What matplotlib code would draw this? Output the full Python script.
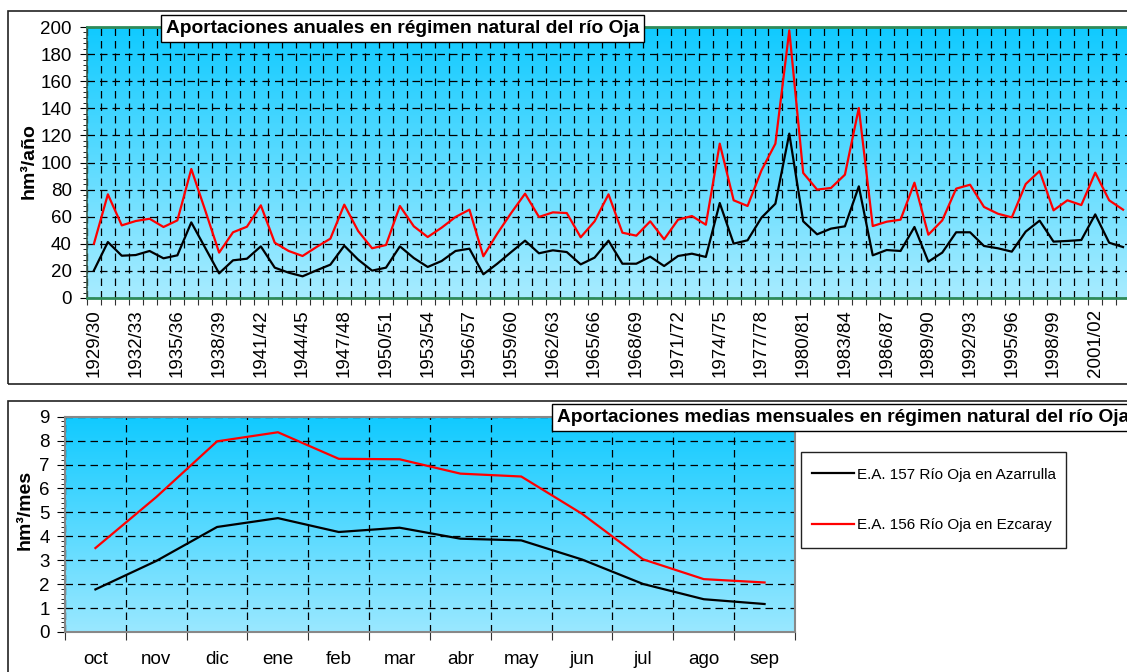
import numpy as np
import matplotlib
matplotlib.use("Agg")
import matplotlib.pyplot as plt
from matplotlib.patches import Rectangle
from matplotlib.colors import LinearSegmentedColormap

plt.rcParams['font.family'] = ['Liberation Sans', 'DejaVu Sans']

# ---------------- data ----------------
seasons = [f"{y}/{(y + 1) % 100:02d}" for y in range(1929, 2004)]

azarrulla_annual = [20.4, 41.3, 31.2, 31.7, 34.7, 29.3, 31.5, 55.8, 37.0, 18.2,
                    27.8, 29.0, 38.1, 22.4, 18.7, 16.0, 20.4, 24.6, 38.6, 28.3,
                    20.2, 22.4, 38.1, 29.5, 22.9, 27.3, 34.7, 36.4, 17.5, 25.3,
                    33.9, 42.3, 33.0, 35.2, 33.9, 24.8, 29.8, 42.3, 25.3, 25.3,
                    30.5, 23.6, 31.0, 32.7, 30.3, 70.1, 40.1, 42.6, 59.3, 69.6,
                    121.3, 56.6, 47.0, 51.2, 52.9, 82.4, 31.5, 35.4, 34.7, 52.4,
                    26.8, 33.5, 48.5, 48.5, 38.4, 36.7, 34.2, 49.0, 57.1, 41.6,
                    42.1, 42.8, 61.7, 40.8, 37.6]

ezcaray_annual = [40.1, 76.5, 53.6, 56.8, 58.5, 52.4, 57.3, 95.2, 64.7, 33.5,
                  48.5, 52.6, 68.4, 40.8, 34.7, 31.0, 37.6, 43.8, 68.9, 49.4,
                  36.7, 39.1, 67.9, 52.9, 45.0, 51.9, 59.8, 65.2, 30.8, 47.5,
                  62.7, 77.0, 59.8, 63.2, 62.7, 44.8, 56.6, 76.5, 48.2, 46.0,
                  56.6, 43.3, 57.8, 60.5, 54.1, 113.9, 72.1, 67.9, 94.2, 113.9,
                  197.5, 92.3, 80.0, 81.2, 91.0, 140.2, 53.1, 56.3, 57.8, 85.1,
                  46.7, 57.3, 80.7, 83.6, 67.2, 62.2, 59.5, 84.1, 93.7, 64.7,
                  72.1, 68.6, 92.5, 72.1, 65.2]

months = ['oct', 'nov', 'dic', 'ene', 'feb', 'mar', 'abr', 'may', 'jun', 'jul', 'ago', 'sep']
azarrulla_monthly = [1.78, 2.97, 4.39, 4.76, 4.18, 4.36, 3.90, 3.83, 3.03, 2.01, 1.37, 1.17]
ezcaray_monthly = [3.51, 5.64, 7.97, 8.35, 7.24, 7.22, 6.62, 6.50, 4.94, 3.04, 2.21, 2.07]

label_azarrulla = 'E.A. 157 Río Oja en Azarrulla'
label_ezcaray = 'E.A. 156 Río Oja en Ezcaray'
title_top = 'Aportaciones anuales en régimen natural del río Oja'
title_bottom = 'Aportaciones medias mensuales en régimen natural del río Oja'

# ---------------- figure ----------------
W, H = 1127, 672
fig = plt.figure(figsize=(W / 100, H / 100), dpi=100)


def fx(px):
    return px / W


def fy(py):
    return 1 - py / H


# outer frames
fig.patches.append(Rectangle((fx(8), fy(384)), fx(1200), fy(11) - fy(384),
                             transform=fig.transFigure, fill=False,
                             ec='#222222', lw=1.2, zorder=0))
fig.patches.append(Rectangle((fx(8), fy(760)), fx(1200), fy(401) - fy(760),
                             transform=fig.transFigure, fill=False,
                             ec='#222222', lw=1.2, zorder=0))
# legend frame
fig.patches.append(Rectangle((fx(801), fy(548)), fx(1066) - fx(801), fy(452) - fy(548),
                             transform=fig.transFigure, fill=False,
                             ec='#222222', lw=1.0, zorder=0))

grad_top = LinearSegmentedColormap.from_list('g1', ['#a8ecff', '#10caff'])
grad_bot = LinearSegmentedColormap.from_list('g2', ['#9ae8ff', '#10caff'])

# ---------------- top chart ----------------
ax1 = fig.add_axes([fx(87), fy(298), fx(1130) - fx(87), fy(27) - fy(298)])
n = len(seasons)
x = np.arange(n)
ax1.imshow(np.linspace(0, 1, 256).reshape(-1, 1), cmap=grad_top, origin='lower',
           aspect='auto', extent=(-0.5, n - 0.5, 0, 200), zorder=0)
ax1.plot(x, azarrulla_annual, color='black', lw=1.6, zorder=3)
ax1.plot(x, ezcaray_annual, color='#ff0000', lw=1.6, zorder=3)
ax1.set_xlim(-0.5, n - 0.5)
ax1.set_ylim(0, 200)
ax1.set_xticks(np.arange(-0.5, n, 1))
ax1.set_xticklabels([])
ax1.set_xticks(x[::3], minor=True)
ax1.set_xticklabels(seasons[::3], minor=True, rotation=90, fontsize=13.5)
ax1.tick_params(axis='x', which='major', length=5, width=0.8, color='#333333', direction='out')
ax1.tick_params(axis='x', which='minor', length=0, pad=8)
ax1.set_yticks(np.arange(0, 201, 20))
ax1.set_yticks(np.arange(0, 201, 4), minor=True)
ax1.tick_params(axis='y', which='major', length=5, width=0.8, labelsize=13.5, pad=6)
ax1.tick_params(axis='y', which='minor', length=3, width=0.6)
ax1.grid(True, which='major', axis='both', color='black', lw=0.9, ls=(0, (6, 4)), zorder=1)
for s in ['top', 'bottom']:
    ax1.spines[s].set_color('#2e8b5a')
    ax1.spines[s].set_linewidth(2)
ax1.spines['left'].set_color('#3a5a4a')
ax1.spines['left'].set_linewidth(1.2)
ax1.spines['right'].set_visible(False)
ax1.set_ylabel('hm³/año', fontsize=14, fontweight='bold')
ax1.yaxis.set_label_coords(-0.047, 0.506)

fig.text(fx(166), fy(28.5), title_top, fontsize=13.8, fontweight='bold', va='center', ha='left',
         bbox=dict(boxstyle='square,pad=0.25', fc='white', ec='black', lw=1.0), zorder=10)

# ---------------- bottom chart ----------------
ax2 = fig.add_axes([fx(65), fy(632), fx(795) - fx(65), fy(416.7) - fy(632)])
m = len(months)
xm = np.arange(m)
ax2.imshow(np.linspace(0, 1, 256).reshape(-1, 1), cmap=grad_bot, origin='lower',
           aspect='auto', extent=(-0.5, m - 0.5, 0, 9), zorder=0)
ax2.plot(xm, azarrulla_monthly, color='black', lw=1.6, zorder=3, label=label_azarrulla)
ax2.plot(xm, ezcaray_monthly, color='#ff0000', lw=1.6, zorder=3, label=label_ezcaray)
ax2.set_xlim(-0.5, m - 0.5)
ax2.set_ylim(0, 9)
ax2.set_xticks(np.arange(-0.5, m, 1))
ax2.set_xticklabels([])
ax2.set_xticks(xm, minor=True)
ax2.set_xticklabels(months, minor=True, fontsize=13.5)
ax2.tick_params(axis='x', which='major', length=6, width=0.8, color='#333333')
ax2.tick_params(axis='x', which='minor', length=0, pad=14)
ax2.set_yticks(np.arange(0, 10, 1))
ax2.set_yticks(np.arange(0, 9.01, 0.2), minor=True)
ax2.tick_params(axis='y', which='major', length=6, width=0.8, labelsize=13.5, pad=5)
ax2.tick_params(axis='y', which='minor', length=3, width=0.6)
ax2.grid(True, which='major', axis='both', color='black', lw=0.9, ls=(0, (6, 4)), zorder=1)
for s in ax2.spines.values():
    s.set_color('#888888')
    s.set_linewidth(1.5)
ax2.set_ylabel('hm³/mes', fontsize=14, fontweight='bold')
ax2.yaxis.set_label_coords(-0.0425, 0.567)

fig.text(fx(557), fy(417.5), title_bottom, fontsize=13.8, fontweight='bold', va='center', ha='left',
         bbox=dict(boxstyle='square,pad=0.25', fc='white', ec='black', lw=1.0), zorder=10)

leg = fig.legend(handles=ax2.get_lines(), loc='center left',
                 bbox_to_anchor=(fx(812), fy(500)), borderaxespad=0, borderpad=0,
                 fontsize=11, frameon=False,
                 handlelength=2.75, handletextpad=0.2, labelspacing=2.4)

fig.savefig('out.png', dpi=100)
